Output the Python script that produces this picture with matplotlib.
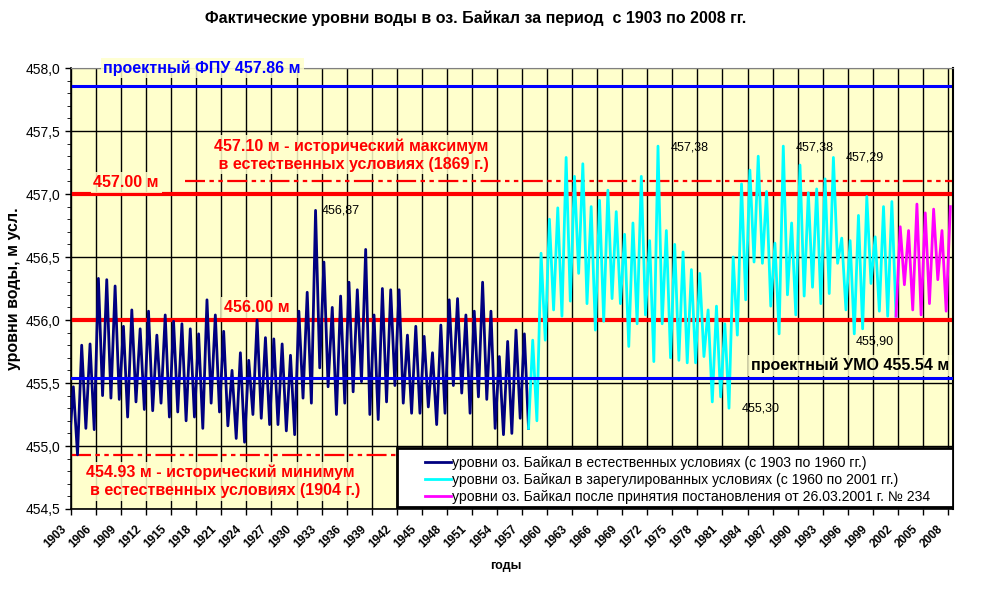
import numpy as np
import matplotlib
matplotlib.use("Agg")
import matplotlib.pyplot as plt
import matplotlib.transforms as mtransforms
from matplotlib.patches import Rectangle
from matplotlib.lines import Line2D

plt.rcParams["font.family"] = ["Liberation Sans", "DejaVu Sans"]

# Годы наблюдений
years = list(range(1903, 2009))

# Годовой максимум (осень) и весенний минимум, м усл.
peak_levels = [
    455.47, 455.80, 455.81, 456.33, 456.32, 456.27, 455.95, 456.08, 455.93, 456.07,  # 1903-1912
    455.88, 456.04, 455.99, 455.97, 455.93, 455.89, 456.16, 456.04, 455.91, 455.60,  # 1913-1922
    455.74, 455.68, 456.00, 455.86, 455.85, 455.81, 455.72, 456.07, 456.22, 456.87,  # 1923-1932
    456.46, 456.10, 456.19, 456.30, 456.24, 456.56, 456.04, 456.25, 456.24, 456.24,  # 1933-1942
    455.88, 455.95, 455.87, 455.74, 455.96, 456.16, 456.17, 456.04, 456.07, 456.30,  # 1943-1952
    456.07, 455.71, 455.83, 455.92, 455.89, 455.84, 456.53, 456.80, 456.89, 457.29,  # 1953-1962
    457.14, 457.24, 456.90, 456.95, 457.03, 456.86, 456.68, 456.77, 457.14, 456.63,  # 1963-1972
    457.38, 456.71, 456.60, 456.54, 456.40, 456.37, 456.08, 456.11, 455.97, 456.50,  # 1973-1982
    457.08, 457.19, 457.30, 457.02, 456.61, 457.38, 456.77, 457.23, 457.01, 457.04,  # 1983-1992
    457.12, 457.29, 456.65, 456.63, 456.83, 456.98, 456.66, 456.90, 456.94, 456.74,  # 1993-2002
    456.71, 456.92, 456.85, 456.88, 456.71, 456.90,                                  # 2003-2008
]
spring_lows = [
    455.00, 454.93, 455.14, 455.13, 455.40, 455.38, 455.37, 455.23, 455.35, 455.29,  # 1903-1912
    455.28, 455.34, 455.23, 455.27, 455.20, 455.23, 455.14, 455.34, 455.27, 455.16,  # 1913-1922
    455.06, 455.03, 455.25, 455.22, 455.17, 455.17, 455.12, 455.09, 455.38, 455.34,  # 1923-1932
    455.62, 455.47, 455.25, 455.34, 455.43, 455.51, 455.25, 455.21, 455.35, 455.48,  # 1933-1942
    455.34, 455.26, 455.26, 455.31, 455.17, 455.26, 455.48, 455.42, 455.26, 455.39,  # 1943-1952
    455.37, 455.14, 455.09, 455.10, 455.22, 455.14, 455.20, 455.84, 456.08, 456.03,  # 1953-1962
    456.15, 456.37, 456.13, 455.92, 455.99, 456.17, 456.13, 455.79, 455.97, 456.04,  # 1963-1972
    455.67, 455.97, 455.70, 455.68, 455.66, 455.66, 455.71, 455.35, 455.39, 455.30,  # 1973-1982
    455.88, 456.16, 456.46, 456.45, 456.11, 455.89, 456.20, 456.04, 456.19, 456.26,  # 1983-1992
    456.13, 456.21, 456.45, 456.08, 455.89, 455.93, 456.29, 456.07, 456.03, 456.03,  # 1993-2002
    456.28, 456.08, 456.04, 456.13, 456.32, 456.07,                                  # 2003-2008
]

# Годы смены режима (по рисунку)
regulated_from = 1958
decree_from = 2002

legend_labels = [
    "уровни оз. Байкал в естественных условиях (с 1903 по 1960 гг.)",
    "уровни оз. Байкал в зарегулированных условиях (с 1960 по 2001 гг.)",
    "уровни оз. Байкал после принятия постановления от 26.03.2001 г. № 234",
]
colors = ["#000080", "#00FFFF", "#FF00FF"]

# Ряд: весенний минимум, затем осенний максимум каждого года
t, lev = [], []
for yr, lo, hi in zip(years, spring_lows, peak_levels):
    t += [yr - 0.22, yr + 0.28]
    lev += [lo, hi]
t = np.array(t)
lev = np.array(lev)
i1 = 2 * (regulated_from - years[0])
i2 = 2 * (decree_from - years[0])

fig = plt.figure(figsize=(10.07, 6.01), dpi=100)
ax = fig.add_axes([71 / 1007, 1 - 509 / 601, 882 / 1007, 441 / 601])
ax.set_facecolor("#FFFFCC")
ax.set_xlim(1903, 2008.6)
ax.set_ylim(454.5, 458.0)

# Сетка
xt = list(range(1903, 2009, 3))
for x in xt:
    ax.axvline(x, color="black", lw=1, zorder=1)
for y in np.arange(454.5, 458.01, 0.5):
    ax.axhline(y, color="black" if y < 457.9 else "#808080", lw=1, zorder=1)

# Уровни
ax.plot(t[:i1 + 1], lev[:i1 + 1], color=colors[0], lw=2, zorder=3)
ax.plot(t[i1:i2 + 1], lev[i1:i2 + 1], color=colors[1], lw=2, zorder=3)
ax.plot(t[i2:], lev[i2:], color=colors[2], lw=2, zorder=3)

# Характерные отметки
ax.axhline(457.86, color="#0000FF", lw=2.2, zorder=2)
ax.axhline(457.00, color="#FF0000", lw=3, zorder=2)
ax.axhline(456.00, color="#FF0000", lw=3, zorder=2)
ax.axhline(455.54, color="#0000FF", lw=2.2, zorder=4)
ax.plot([1916.7, 2008.6], [457.10, 457.10], color="#FF0000", lw=1.6,
        dashes=(9, 2, 2, 2, 2, 2), zorder=2)
ax.axhline(454.93, color="#FF0000", lw=1.6, dashes=(9, 2, 2, 2, 2, 2), zorder=2)

bg = dict(facecolor="#FFFFCC", edgecolor="none", alpha=0.85, pad=2)
ax.text(1918.7, 458.0, "проектный ФПУ 457.86 м", color="#0000FF", fontsize=11.5,
        fontweight="bold", ha="center", va="center", bbox=bg, clip_on=False, zorder=6)
ax.text(1936.6, 457.31, "457.10 м - исторический максимум\n в естественных условиях (1869 г.)",
        color="#FF0000", fontsize=11.5, fontweight="bold", ha="center", va="center",
        linespacing=1.25, bbox=bg, zorder=6)
ax.text(1909.6, 457.09, "457.00 м", color="#FF0000", fontsize=11.5, fontweight="bold",
        ha="center", va="center", bbox=bg, zorder=6)
ax.text(1925.2, 456.10, "456.00 м", color="#FF0000", fontsize=11.5, fontweight="bold",
        ha="center", va="center", bbox=bg, zorder=6)
ax.text(1996.3, 455.64, "проектный УМО 455.54 м", color="black", fontsize=11.5,
        fontweight="bold", ha="center", va="center", bbox=bg, zorder=6)
ax.text(1920.9, 454.72, "454.93 м - исторический минимум\n  в естественных условиях (1904 г.)",
        color="#FF0000", fontsize=11.5, fontweight="bold", ha="center", va="center",
        linespacing=1.25, bbox=bg, zorder=6)

# Подписи экстремумов
for x, y, s in [(1935.3, 456.87, "456,87"), (1977.1, 457.37, "457,38"),
                (1992.0, 457.37, "457,38"), (1998.1, 457.29, "457,29"),
                (1985.6, 455.30, "455,30"), (1999.2, 455.83, "455,90")]:
    ax.text(x, y, s, fontsize=9, ha="center", va="center", zorder=6)

# Оси: подписи годов рисуем сами, чтобы сдвинуть их как в Excel
ax.set_xticks(xt)
ax.set_xticklabels([])
lbl_tr = ax.get_xaxis_transform() + mtransforms.ScaledTranslation(-11 / 100, -14 / 100,
                                                                   fig.dpi_scale_trans)
for x in xt:
    ax.text(x, 0, str(x), transform=lbl_tr, rotation=45, ha="right", va="top",
            rotation_mode="anchor", fontsize=8.5, fontweight="bold", clip_on=False)

ax.set_yticks(np.arange(454.5, 458.01, 0.5))
ax.set_yticklabels([f"{v:.1f}".replace(".", ",") for v in np.arange(454.5, 458.01, 0.5)],
                   fontsize=10)
ax.set_yticks(np.arange(454.5, 458.01, 0.1), minor=True)
ax.tick_params(axis="both", direction="out", length=4, width=1, colors="black")
ax.tick_params(axis="y", which="minor", length=3)
for s in ["left", "bottom"]:
    ax.spines[s].set_linewidth(1.2)
ax.spines["right"].set_linewidth(1.5)
ax.spines["top"].set_color("#808080")

ax.set_ylabel("уровни воды, м усл.", fontsize=11.5, fontweight="bold")
ax.yaxis.set_label_coords(-0.057, 0.5)
ax.set_xlabel("годы", fontsize=9, fontweight="bold")
ax.xaxis.set_label_coords(0.493, -0.115)

fig.text(476 / 1007, 1 - 18 / 601,
         "Фактические уровни воды в оз. Байкал за период  с 1903 по 2008 гг.",
         fontsize=11.5, fontweight="bold", ha="center", va="center")

# Легенда
ax.add_patch(Rectangle((0.3696, 0.0045), 0.6304, 0.134, transform=ax.transAxes,
                       facecolor="white", edgecolor="black", lw=2, zorder=7))
handles = [Line2D([], [], color=c, lw=2) for c in colors]
leg = ax.legend(handles, legend_labels, loc="upper left", bbox_to_anchor=(0.397, 0.13),
                frameon=False, fontsize=10.1, handlelength=1.8, handletextpad=0.1,
                labelspacing=0.22, borderaxespad=0, borderpad=0.3)
leg.set_zorder(8)

fig.savefig("out.png", dpi=100)
